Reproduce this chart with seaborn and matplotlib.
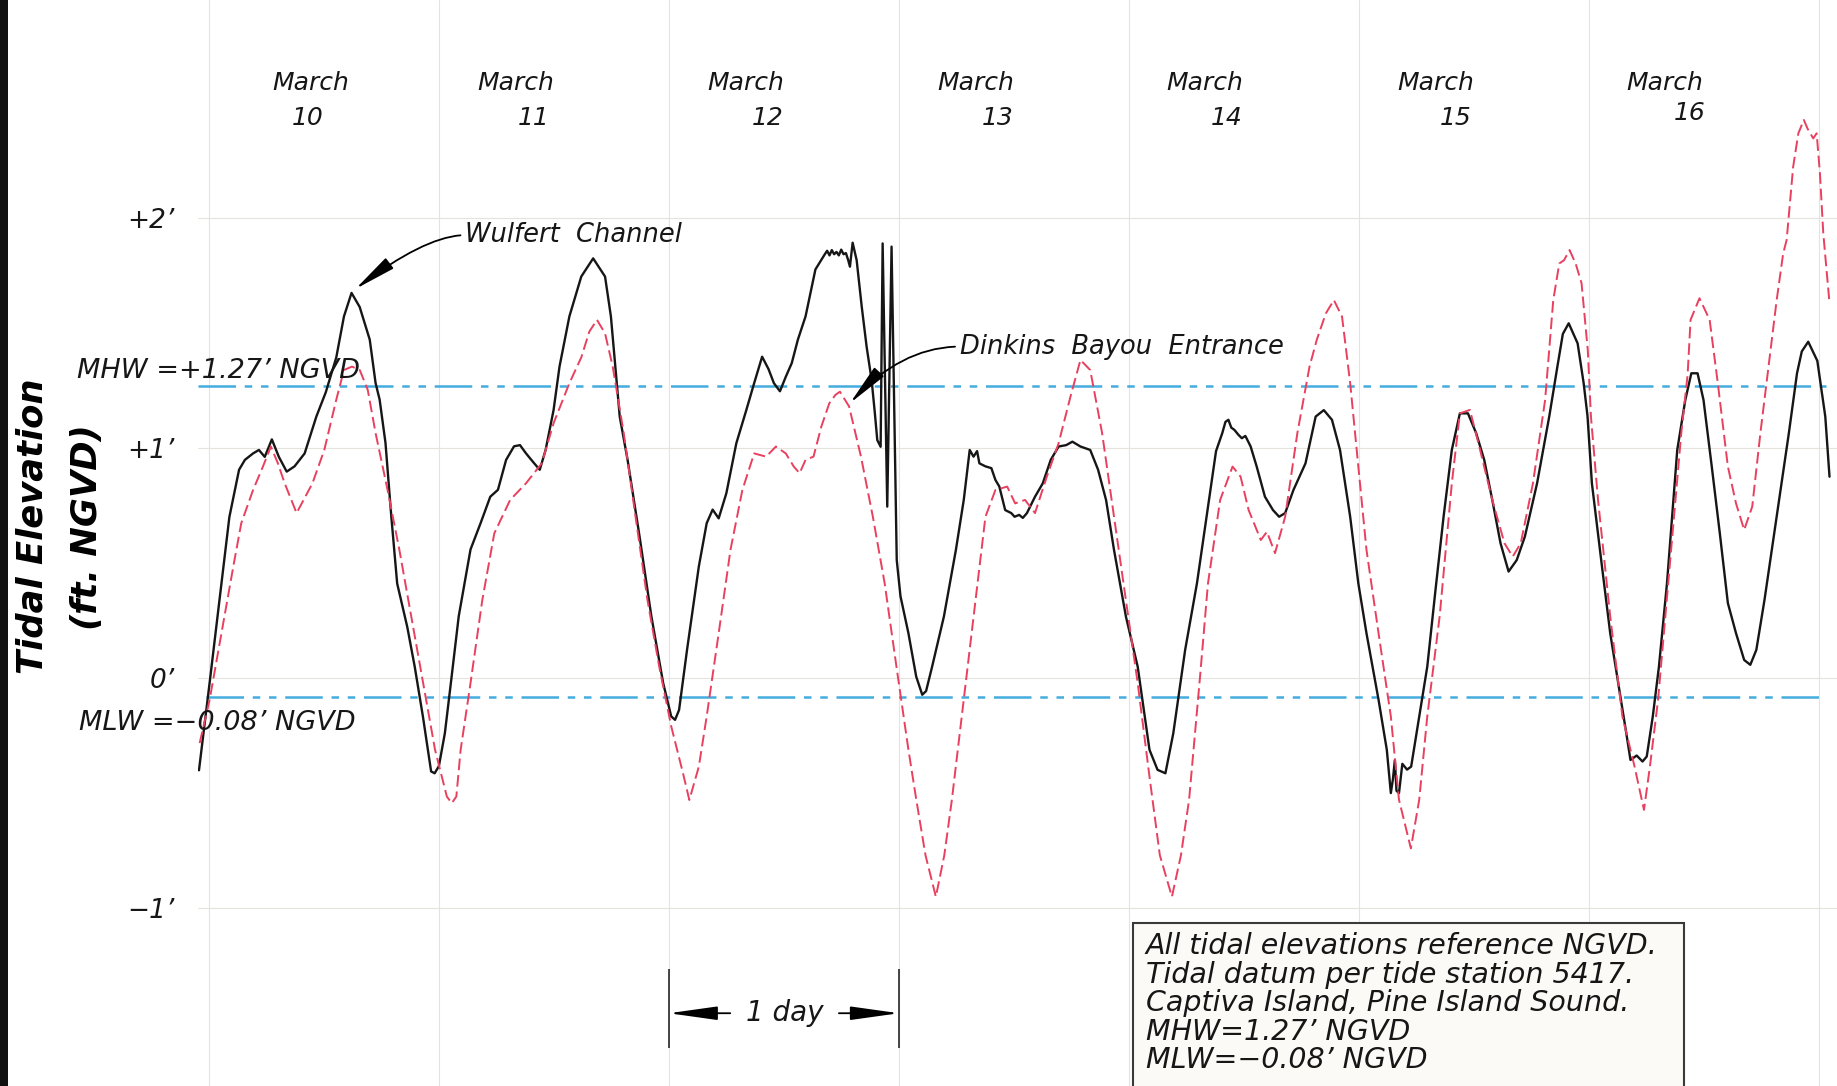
import matplotlib
matplotlib.use("Agg")
import matplotlib.pyplot as plt
from matplotlib.patches import Rectangle
import numpy as np
import pandas as pd
import seaborn as sns

# Gauge records: hours after 00:00 March 10, water level in ft NGVD
wulfert_hours = [
    -1.00, 0.11, 1.34, 2.17, 3.18, 3.79, 4.64, 5.25, 5.86, 6.60, 7.33, 8.15, 8.97,
    10.02, 11.24, 12.22, 13.32, 14.12, 14.91, 15.76, 16.81, 17.42, 17.84, 18.45,
    19.06, 19.67, 20.72, 21.50, 22.36, 23.21, 23.58, 24.02, 24.64, 25.27, 26.09,
    27.32, 28.35, 29.38, 30.18, 31.03, 31.86, 32.48, 33.11, 33.92, 34.54, 35.15,
    35.98, 36.60, 37.63, 38.87, 40.11, 41.35, 41.96, 42.88, 43.70, 44.95, 46.18,
    47.41, 48.25, 48.65, 49.07, 49.90, 51.13, 51.95, 52.57, 53.20, 54.00, 55.04,
    56.08, 56.90, 57.73, 58.40, 58.96, 59.59, 60.20, 60.82, 61.46, 62.26, 63.29,
    64.27, 64.51, 64.76, 65.00, 65.24, 65.49, 65.73, 65.98, 66.22, 66.47, 66.71,
    66.89, 67.17, 67.59, 68.12, 68.63, 69.15, 69.49, 69.74, 70.09, 70.30, 70.78,
    71.23, 71.77, 72.16, 72.99, 73.80, 74.43, 74.83, 75.46, 76.69, 77.94, 78.76,
    79.38, 79.78, 80.15, 80.39, 81.01, 81.64, 82.06, 82.47, 83.08, 83.71, 84.06,
    84.54, 84.92, 85.35, 86.19, 87.00, 87.83, 88.65, 89.44, 90.09, 90.93, 91.95,
    92.77, 93.60, 94.43, 95.67, 96.90, 98.13, 98.97, 99.79, 100.61, 101.85,
    103.08, 104.28, 105.07, 105.72, 106.05, 106.36, 106.66, 106.99, 107.40,
    107.76, 108.13, 108.68, 109.31, 110.17, 111.01, 111.65, 112.28, 113.14,
    114.40, 115.46, 116.31, 117.16, 118.00, 119.06, 119.91, 120.76, 122.02,
    122.88, 123.30, 123.52, 123.72, 123.89, 124.15, 124.50, 124.99, 125.42,
    126.26, 127.10, 127.96, 128.80, 129.66, 130.50, 131.34, 132.20, 133.04,
    133.88, 134.74, 135.58, 136.43, 137.28, 138.55, 139.82, 140.67, 141.24,
    141.85, 142.78, 143.41, 143.81, 144.27, 145.32, 146.18, 147.02, 147.86,
    148.29, 148.94, 149.55, 149.99, 150.62, 151.26, 152.10, 153.17, 154.01,
    154.64, 155.29, 155.91, 156.77, 157.61, 158.45, 159.30, 160.15, 160.79,
    161.42, 162.27, 163.54, 164.81, 165.66, 166.16, 166.83, 167.78, 168.61,
    169.05,
]
wulfert_ft = [
    -0.400, -0.020, 0.410, 0.700, 0.905, 0.948, 0.976, 0.991, 0.961, 1.037, 0.961,
    0.897, 0.920, 0.976, 1.136, 1.241, 1.393, 1.571, 1.673, 1.612, 1.470, 1.281,
    1.210, 1.022, 0.701, 0.411, 0.223, 0.050, -0.168, -0.405, -0.413, -0.382,
    -0.240, -0.021, 0.269, 0.559, 0.671, 0.788, 0.818, 0.948, 1.007, 1.012, 0.976,
    0.935, 0.905, 0.991, 1.164, 1.353, 1.571, 1.744, 1.823, 1.744, 1.571, 1.136,
    0.948, 0.615, 0.269, -0.021, -0.166, -0.181, -0.138, 0.123, 0.485, 0.673,
    0.732, 0.694, 0.803, 1.020, 1.164, 1.281, 1.396, 1.342, 1.281, 1.246, 1.309,
    1.368, 1.470, 1.571, 1.775, 1.841, 1.856, 1.836, 1.859, 1.841, 1.851, 1.836,
    1.861, 1.841, 1.846, 1.815, 1.787, 1.891, 1.815, 1.613, 1.439, 1.295, 1.150,
    1.034, 1.005, 1.888, 0.745, 1.874, 0.513, 0.356, 0.195, 0.007, -0.072, -0.056,
    0.050, 0.268, 0.557, 0.774, 0.991, 0.962, 0.986, 0.933, 0.920, 0.912, 0.861,
    0.832, 0.730, 0.717, 0.701, 0.709, 0.696, 0.717, 0.788, 0.846, 0.948, 1.006,
    1.012, 1.027, 1.006, 0.991, 0.905, 0.774, 0.557, 0.268, 0.050, -0.311, -0.398,
    -0.413, -0.240, 0.123, 0.412, 0.757, 0.986, 1.064, 1.113, 1.122, 1.088, 1.078,
    1.057, 1.042, 1.052, 1.006, 0.919, 0.788, 0.730, 0.701, 0.717, 0.817, 0.933,
    1.136, 1.164, 1.122, 0.991, 0.701, 0.412, 0.195, -0.094, -0.311, -0.499,
    -0.438, -0.355, -0.489, -0.499, -0.372, -0.397, -0.384, -0.166, 0.050, 0.384,
    0.701, 0.991, 1.150, 1.150, 1.064, 0.948, 0.774, 0.586, 0.463, 0.513, 0.615,
    0.846, 1.136, 1.353, 1.495, 1.541, 1.454, 1.281, 1.139, 0.846, 0.485, 0.195,
    -0.021, -0.240, -0.355, -0.336, -0.362, -0.340, -0.166, 0.050, 0.412, 0.991,
    1.208, 1.324, 1.324, 1.208, 0.919, 0.629, 0.326, 0.195, 0.079, 0.058, 0.123,
    0.340, 0.701, 1.064, 1.324, 1.419, 1.461, 1.378, 1.136, 0.875,
]

dinkins_hours = [
    -0.93, 0.11, 1.34, 2.58, 3.41, 4.64, 5.67, 6.50, 7.21, 7.94, 9.18, 10.83,
    12.07, 13.31, 14.12, 14.95, 15.77, 16.60, 17.42, 18.67, 19.90, 21.14, 22.37,
    23.62, 24.85, 25.36, 25.84, 26.29, 27.32, 28.55, 29.80, 31.45, 33.10, 34.75,
    35.98, 37.63, 38.87, 39.71, 40.51, 41.35, 42.15, 43.30, 44.53, 45.77, 47.00,
    48.25, 49.48, 50.14, 51.13, 51.95, 53.20, 54.43, 55.67, 56.90, 58.15, 59.17,
    60.20, 61.03, 61.64, 62.26, 63.09, 63.91, 64.74, 65.37, 65.85, 66.80, 68.04,
    69.28, 70.51, 71.74, 72.99, 73.81, 74.77, 75.85, 76.73, 77.52, 78.76, 79.99,
    81.02, 82.06, 83.29, 84.12, 85.15, 86.19, 87.42, 88.65, 89.89, 90.93, 91.95,
    93.19, 94.43, 95.67, 96.90, 98.13, 99.21, 100.47, 101.41, 102.26, 103.43,
    104.23, 105.50, 106.79, 107.63, 108.47, 109.74, 110.38, 111.22, 112.28,
    113.55, 114.82, 115.58, 116.52, 117.36, 118.21, 119.06, 119.91, 120.76,
    122.02, 123.30, 124.15, 125.39, 126.26, 127.10, 128.39, 129.66, 130.50,
    131.55, 132.61, 133.88, 135.15, 136.01, 136.85, 138.12, 139.39, 140.24,
    140.87, 141.36, 141.94, 142.58, 143.19, 143.84, 144.17, 144.91, 146.18,
    147.45, 148.72, 149.70, 150.32, 151.17, 152.53, 153.59, 154.25, 154.56,
    155.49, 156.55, 157.40, 158.45, 159.30, 160.15, 160.99, 161.84, 162.69,
    163.54, 164.22, 164.58, 165.26, 165.80, 166.37, 166.78, 167.35, 167.71,
    168.05, 168.40, 169.02,
]
dinkins_ft = [
    -0.282, -0.094, 0.195, 0.485, 0.673, 0.817, 0.919, 1.006, 0.935, 0.846, 0.717,
    0.846, 0.991, 1.208, 1.338, 1.353, 1.338, 1.252, 1.064, 0.817, 0.557, 0.268,
    -0.021, -0.311, -0.514, -0.543, -0.514, -0.311, -0.021, 0.340, 0.629, 0.774,
    0.846, 0.933, 1.107, 1.281, 1.393, 1.505, 1.556, 1.497, 1.353, 1.064, 0.701,
    0.340, 0.050, -0.209, -0.413, -0.529, -0.384, -0.166, 0.195, 0.557, 0.817,
    0.976, 0.962, 1.006, 0.976, 0.919, 0.890, 0.948, 0.962, 1.093, 1.194, 1.230,
    1.244, 1.180, 0.962, 0.701, 0.412, 0.050, -0.311, -0.528, -0.769, -0.949,
    -0.769, -0.528, -0.094, 0.340, 0.701, 0.817, 0.832, 0.759, 0.774, 0.717,
    0.875, 1.020, 1.223, 1.382, 1.338, 1.064, 0.701, 0.340, -0.021, -0.428,
    -0.769, -0.949, -0.769, -0.528, 0.020, 0.412, 0.774, 0.919, 0.875, 0.730,
    0.600, 0.636, 0.543, 0.701, 1.064, 1.353, 1.470, 1.584, 1.642, 1.570, 1.281,
    0.919, 0.557, 0.195, -0.166, -0.528, -0.739, -0.528, -0.166, 0.268, 0.846,
    1.150, 1.165, 0.991, 0.774, 0.586, 0.528, 0.586, 0.846, 1.208, 1.642, 1.801,
    1.815, 1.859, 1.800, 1.715, 1.425, 1.136, 0.774, 0.268, -0.166, -0.384,
    -0.572, -0.384, -0.094, 0.557, 1.064, 1.317, 1.556, 1.650, 1.556, 1.281,
    0.919, 0.759, 0.644, 0.745, 1.064, 1.353, 1.642, 1.845, 1.903, 2.221, 2.366,
    2.424, 2.385, 2.344, 2.366, 2.192, 1.932, 1.642,
]

month_name = "March"
day_numbers = [10, 11, 12, 13, 14, 15, 16]
elev_ticks = [-1, 0, 1, 2]
elev_tick_labels = ["\u22121\u2019", "0\u2019", "+1\u2019", "+2\u2019"]
mhw_ft = 1.27
mlw_ft = -0.08
note_lines = [
    "All tidal elevations reference NGVD.",
    "Tidal datum per tide station 5417.",
    "Captiva Island, Pine Island Sound.",
    "MHW=1.27\u2019 NGVD",
    "MLW=\u22120.08\u2019 NGVD",
]

# ---- layout ----
W, H = 1837, 1086
march_x = [0.443, 1.336, 2.336, 3.333, 4.327, 5.332, 6.329]
num_x = [0.431, 1.413, 2.431, 3.428, 4.422, 5.420, 6.435]
num_y = [2.431, 2.431, 2.431, 2.431, 2.431, 2.431, 2.453]
note_y = [-1.165, -1.289, -1.412, -1.538, -1.658]

ink = "#161616"
red = "#e8405e"
blue = "#45acde"
grid_c = "#e6e3dd"

sns.set_theme(style="white")
plt.rcParams["font.family"] = ["DejaVu Sans"]
plt.rcParams["font.style"] = "italic"

fig = plt.figure(figsize=(W / 100, H / 100), dpi=100)
fig.patch.set_facecolor("white")
ax = fig.add_axes([0.1078, 0.0, 0.8922, 1.0])
ax.set_facecolor("white")

wulfert = pd.DataFrame({"day": np.asarray(wulfert_hours) / 24.0, "ft": wulfert_ft})
dinkins = pd.DataFrame({"day": np.asarray(dinkins_hours) / 24.0, "ft": dinkins_ft})

ax.set_xlim(-0.0458, 7.0763)
ax.set_ylim(-1.771, 2.945)

# day / foot grid
ax.set_xticks(range(8))
ax.set_xticklabels([])
ax.grid(True, color=grid_c, lw=0.8, zorder=0)
for s in ax.spines.values():
    s.set_visible(False)

# mean high / low water reference lines (phantom pattern)
for level, x0 in ((mhw_ft, -0.045), (mlw_ft, -0.013)):
    ln, = ax.plot([x0, 7.03], [level, level], color=blue, lw=1.8, zorder=2)
    ln.set_dashes([15, 3.5, 3, 3.5, 3, 3.5])

sns.lineplot(data=wulfert, x="day", y="ft", color=ink, lw=1.7,
             sort=False, estimator=None, ax=ax, zorder=3)
sns.lineplot(data=dinkins, x="day", y="ft", color=red, lw=1.4,
             sort=False, estimator=None, ax=ax, zorder=4)
ax.lines[-1].set_dashes([6, 2.5])

ax.set_xlabel("")
ax.set_yticks(elev_ticks, labels=elev_tick_labels)
ax.tick_params(axis="y", length=0, pad=17, labelsize=19, labelcolor=ink)
ax.tick_params(axis="x", length=0)
for t in ax.get_yticklabels():
    t.set_fontstyle("italic")

ax.set_ylabel("Tidal Elevation\n(ft. NGVD)", fontsize=25.5, fontweight="bold",
              fontstyle="italic", color="black", linespacing=1.75, va="center")
ax.yaxis.set_label_coords(-0.0845, 0.515)

# day headings
for mx, nx, ny, d in zip(march_x, num_x, num_y, day_numbers):
    ax.text(mx, 2.583, month_name, ha="center", va="center", fontsize=18,
            style="italic", color=ink)
    ax.text(nx, ny, str(d), ha="center", va="center", fontsize=18,
            style="italic", color=ink)

# datum labels
ax.text(-0.571, 1.332, "MHW =+1.27\u2019 NGVD", ha="left", va="center",
        fontsize=19.5, style="italic", color=ink, zorder=5)
ax.text(-0.562, -0.195, "MLW =\u22120.08\u2019 NGVD", ha="left", va="center",
        fontsize=19.5, style="italic", color=ink, zorder=5)

# station call-outs
head = "-|>,head_length=1.3,head_width=0.2"
ax.annotate("Wulfert  Channel", xy=(0.638, 1.69), xytext=(1.115, 1.924),
            ha="left", va="center", fontsize=18.5, style="italic", color=ink,
            arrowprops=dict(arrowstyle=head, color="black", lw=1.3,
                            connectionstyle="angle3,angleA=0,angleB=37",
                            relpos=(0, 0.5), shrinkA=1, shrinkB=0,
                            mutation_scale=20))
ax.annotate("Dinkins  Bayou  Entrance", xy=(2.787, 1.194), xytext=(3.264, 1.44),
            ha="left", va="center", fontsize=18.5, style="italic", color=ink,
            arrowprops=dict(arrowstyle=head, color="black", lw=1.3,
                            connectionstyle="angle3,angleA=0,angleB=47",
                            relpos=(0, 0.5), shrinkA=1, shrinkB=0,
                            mutation_scale=20))

# one-day scale bar
ax.vlines([2, 3], -1.607, -1.263, color=ink, lw=1.1, zorder=5)
dim = "-|>,head_length=1.5,head_width=0.21"
ax.annotate("", xy=(2.0, -1.455), xytext=(2.267, -1.455),
            arrowprops=dict(arrowstyle=dim, color="black", lw=1.3,
                            shrinkA=0, shrinkB=0, mutation_scale=20))
ax.annotate("", xy=(3.0, -1.455), xytext=(2.739, -1.455),
            arrowprops=dict(arrowstyle=dim, color="black", lw=1.3,
                            shrinkA=0, shrinkB=0, mutation_scale=20))
ax.text(2.505, -1.455, "1 day", ha="center", va="center", fontsize=20,
        style="italic", color=ink)

# datum note
ax.add_patch(Rectangle((4.017, -2.2), 6.411 - 4.017, -1.061 + 2.2,
                       facecolor="#fbfaf6", edgecolor="#3a3a3a", lw=1.5, zorder=6))
for y, line in zip(note_y, note_lines):
    ax.text(4.073, y, line, ha="left", va="center", fontsize=20.5,
            style="italic", color=ink, zorder=7)

# dark binding edge on the left
fig.add_artist(Rectangle((0, 0), 8 / W, 1, transform=fig.transFigure,
                         facecolor="#111111", edgecolor="none"))

fig.savefig("out.png", dpi=100)
